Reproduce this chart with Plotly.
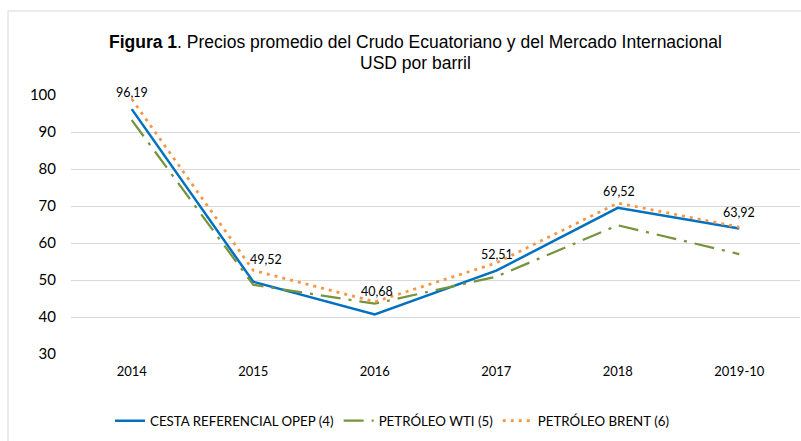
import plotly.graph_objects as go

categories = ["2014", "2015", "2016", "2017", "2018", "2019-10"]
opep = [96.19, 49.52, 40.68, 52.51, 69.52, 63.92]
wti = [93.2, 48.7, 43.6, 50.9, 64.8, 57.0]
brent = [98.9, 52.6, 44.1, 54.6, 70.8, 64.3]
opep_labels = ["96,19", "49,52", "40,68", "52,51", "69,52", "63,92"]

# label placement offsets (px), styling only
label_dx = [0, 13, 2, 1, 1, 0]
label_dy = [17, 22, 23, 16, 16, 16]

W, H = 801, 441
L, R, T, B = 71, 1, 95, 87
pw, ph = W - L - R, H - T - B
FONT = "Lato, Open Sans, sans-serif"
TFONT = "Liberation Sans, Arial, sans-serif"

fig = go.Figure()
fig.add_trace(go.Scatter(
    x=categories, y=opep, mode="lines", name="CESTA REFERENCIAL OPEP (4)",
    line=dict(color="#0070C0", width=2.5),
))
fig.add_trace(go.Scatter(
    x=categories, y=wti, mode="lines", name="PETRÓLEO WTI (5)",
    line=dict(color="#77933C", width=2.25, dash="20px,8px,3px,8px"),
))
fig.add_trace(go.Scatter(
    x=categories, y=brent, mode="lines", name="PETRÓLEO BRENT (6)",
    line=dict(color="#F79646", width=2.75, dash="3px,5px"),
))

for i, (v, t, dx, dy) in enumerate(zip(opep, opep_labels, label_dx, label_dy)):
    fig.add_annotation(x=i, y=v, text=t, showarrow=False, xshift=dx, yshift=dy,
                       font=dict(family=FONT, size=12.5, color="#000000"))

# title (two centred lines as in the reference)
fig.add_annotation(xref="paper", yref="paper", x=(415 - L) / pw, y=1 + (T - 42) / ph,
                   text="<b>Figura 1</b>. Precios promedio del Crudo Ecuatoriano y del Mercado Internacional",
                   showarrow=False, xanchor="center", yanchor="middle",
                   font=dict(family=TFONT, size=17.5, color="#000000"))
fig.add_annotation(xref="paper", yref="paper", x=(415 - L) / pw, y=1 + (T - 63) / ph,
                   text="USD por barril",
                   showarrow=False, xanchor="center", yanchor="middle",
                   font=dict(family=TFONT, size=17.5, color="#000000"))

fig.add_shape(type="rect", xref="paper", yref="paper",
              x0=(8 - L) / pw, x1=(W + 10 - L) / pw,
              y0=-(B + 10) / ph, y1=1 + (T - 11) / ph,
              line=dict(color="#D9D9D9", width=1), layer="below")

fig.update_layout(
    width=W, height=H,
    margin=dict(l=L, r=R, t=T, b=B),
    paper_bgcolor="white", plot_bgcolor="white",
    showlegend=True,
    legend=dict(orientation="h", x=392 / W, xref="container", xanchor="center",
                y=1 - 421 / H, yref="container", yanchor="middle",
                font=dict(family=FONT, size=13.3, color="#000000"),
                itemwidth=30, bgcolor="rgba(0,0,0,0)"),
    xaxis=dict(type="category", showgrid=False, showline=False, zeroline=False,
               ticks="", tickfont=dict(family=FONT, size=13, color="#000000"),
               ticklabelstandoff=8, range=[-0.5, 5.5]),
    yaxis=dict(range=[30, 100], dtick=10, showgrid=True, gridcolor="#D9D9D9", gridwidth=1.2,
               zeroline=False, showline=False, ticks="",
               tickfont=dict(family=FONT, size=15, color="#000000"),
               ticklabelstandoff=14),
)

fig.write_html("out.html", config={"displayModeBar": False},
               post_script="document.body.style.margin='0';document.body.style.overflow='hidden';")
